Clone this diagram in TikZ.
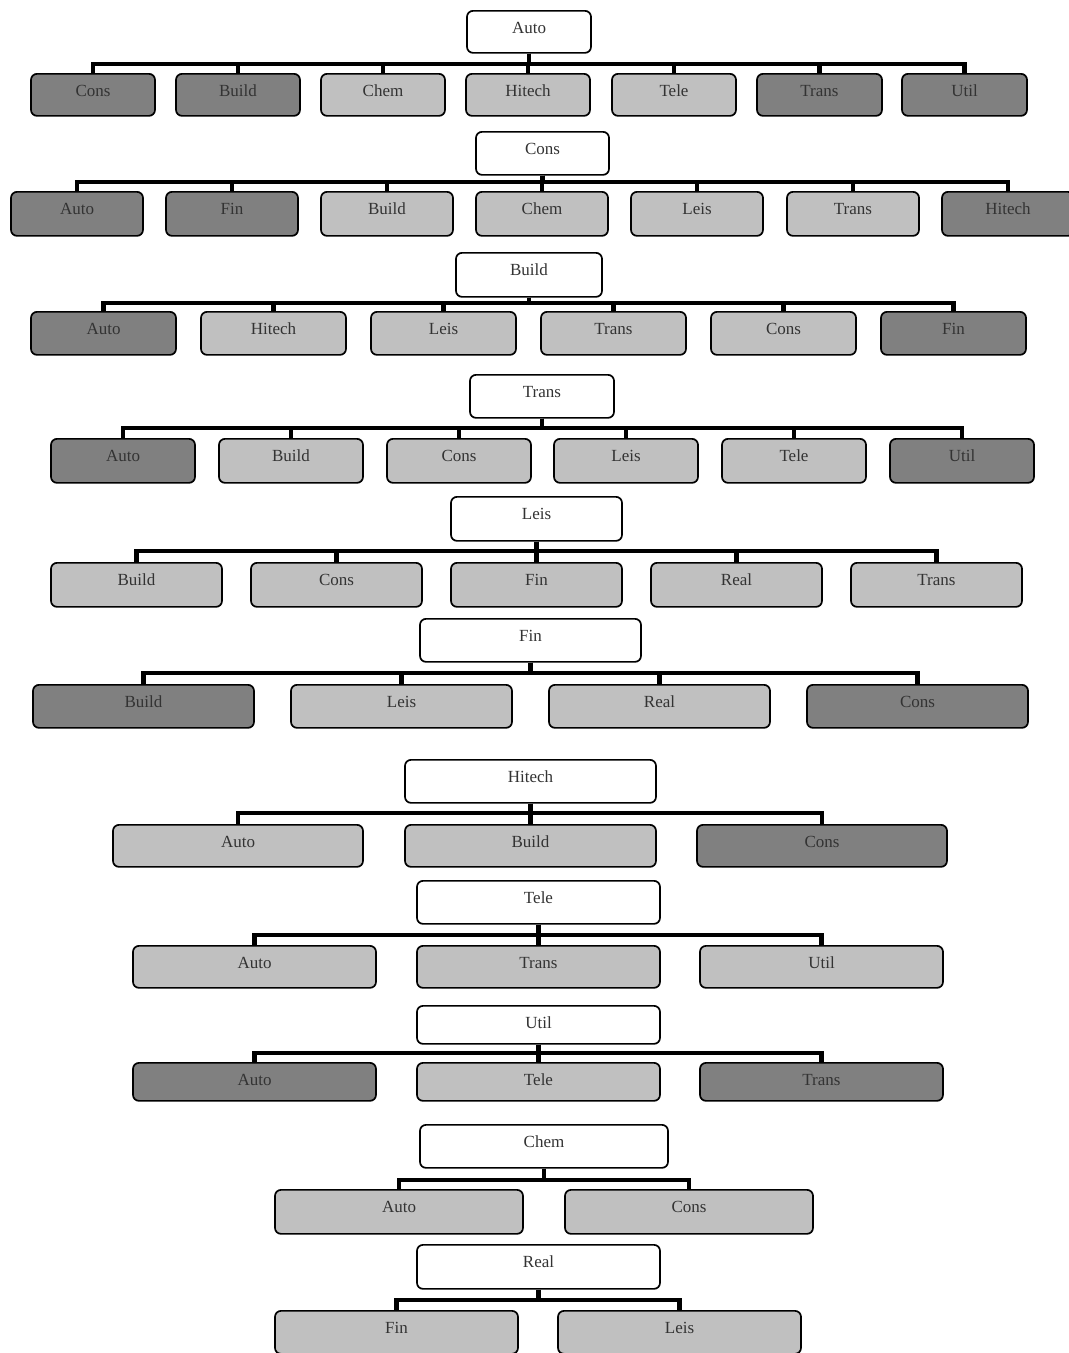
\documentclass[tikz,border=0pt]{standalone}
\usepackage{fontspec}
\setmainfont{Liberation Serif}
\begin{document}
\begin{tikzpicture}[x=1pt,y=-1pt,
  nbox/.style={draw=black,line width=1.7pt,rounded corners=6pt,inner sep=0pt,
    text=black!80,font=\fontsize{17}{20}\selectfont},
  conn/.style={draw=black,line width=4.5pt}]
\definecolor{dk}{HTML}{808080}
\definecolor{lt}{HTML}{C0C0C0}
\useasboundingbox (0,0) rectangle (1069,1353);
\newcommand\bx[7]{%
  \pgfmathsetmacro\bw{#4-#2}\pgfmathsetmacro\bd{#5-#3-23}%
  \pgfmathsetmacro\bcx{(#2+#4)/2}%
  \node[nbox,fill=#6,minimum width=\bw pt,text height=23pt,text depth=\bd pt,anchor=north] (#1) at (\bcx,#3) {#7};}
\newcommand\tree[3]{% parent, bar y, children
  \coordinate (#1bar) at (0,#2);
  \foreach \c in {#3} {\draw[conn] (#1.south) -- (#1.south |- #1bar) -| (\c.north);}}
% Row 1
\bx{p1}{467}{10}{591}{52}{white}{Auto}
\bx{a1}{31}{73}{155}{115}{dk}{Cons}
\bx{a2}{176}{73}{300}{115}{dk}{Build}
\bx{a3}{321}{73}{445}{115}{lt}{Chem}
\bx{a4}{466}{73}{590}{115}{lt}{Hitech}
\bx{a5}{612}{73}{736}{115}{lt}{Tele}
\bx{a6}{757}{73}{882}{115}{dk}{Trans}
\bx{a7}{902}{73}{1027}{115}{dk}{Util}
\tree{p1}{64}{a1,a2,a3,a4,a5,a6,a7}
% Row 2
\bx{p2}{476}{131}{609}{174}{white}{Cons}
\bx{b1}{11}{191}{143}{235}{dk}{Auto}
\bx{b2}{166}{191}{298}{235}{dk}{Fin}
\bx{b3}{321}{191}{453}{235}{lt}{Build}
\bx{b4}{476}{191}{608}{235}{lt}{Chem}
\bx{b5}{631}{191}{763}{235}{lt}{Leis}
\bx{b6}{787}{191}{919}{235}{lt}{Trans}
\bx{b7}{942}{191}{1074}{235}{dk}{Hitech}
\tree{p2}{182}{b1,b2,b3,b4,b5,b6,b7}
% Row 3
\bx{p3}{456}{252}{602}{296}{white}{Build}
\bx{c1}{31}{311}{176}{354}{dk}{Auto}
\bx{c2}{201}{311}{346}{354}{lt}{Hitech}
\bx{c3}{371}{311}{516}{354}{lt}{Leis}
\bx{c4}{541}{311}{686}{354}{lt}{Trans}
\bx{c5}{711}{311}{856}{354}{lt}{Cons}
\bx{c6}{881}{311}{1026}{354}{dk}{Fin}
\tree{p3}{303}{c1,c2,c3,c4,c5,c6}
% Row 4
\bx{p4}{470}{374}{614}{417}{white}{Trans}
\bx{d1}{51}{438}{195}{482}{dk}{Auto}
\bx{d2}{219}{438}{363}{482}{lt}{Build}
\bx{d3}{387}{438}{531}{482}{lt}{Cons}
\bx{d4}{554}{438}{698}{482}{lt}{Leis}
\bx{d5}{722}{438}{866}{482}{lt}{Tele}
\bx{d6}{890}{438}{1034}{482}{dk}{Util}
\tree{p4}{428}{d1,d2,d3,d4,d5,d6}
% Row 5
\bx{p5}{451}{496}{622}{540}{white}{Leis}
\bx{e1}{51}{562}{222}{606}{lt}{Build}
\bx{e2}{251}{562}{422}{606}{lt}{Cons}
\bx{e3}{451}{562}{622}{606}{lt}{Fin}
\bx{e4}{651}{562}{822}{606}{lt}{Real}
\bx{e5}{851}{562}{1022}{606}{lt}{Trans}
\tree{p5}{551}{e1,e2,e3,e4,e5}
% Row 6
\bx{p6}{420}{618}{641}{661}{white}{Fin}
\bx{f1}{33}{684}{254}{727}{dk}{Build}
\bx{f2}{291}{684}{512}{727}{lt}{Leis}
\bx{f3}{549}{684}{770}{727}{lt}{Real}
\bx{f4}{807}{684}{1028}{727}{dk}{Cons}
\tree{p6}{673}{f1,f2,f3,f4}
% Row 7
\bx{p7}{405}{759}{656}{802}{white}{Hitech}
\bx{g1}{113}{824}{363}{866}{lt}{Auto}
\bx{g2}{405}{824}{656}{866}{lt}{Build}
\bx{g3}{697}{824}{947}{866}{dk}{Cons}
\tree{p7}{813}{g1,g2,g3}
% Row 8
\bx{p8}{417}{880}{660}{923}{white}{Tele}
\bx{h1}{133}{945}{376}{987}{lt}{Auto}
\bx{h2}{417}{945}{660}{987}{lt}{Trans}
\bx{h3}{700}{945}{943}{987}{lt}{Util}
\tree{p8}{935}{h1,h2,h3}
% Row 9
\bx{p9}{417}{1005}{660}{1043}{white}{Util}
\bx{i1}{133}{1062}{376}{1100}{dk}{Auto}
\bx{i2}{417}{1062}{660}{1100}{lt}{Tele}
\bx{i3}{700}{1062}{943}{1100}{dk}{Trans}
\tree{p9}{1053}{i1,i2,i3}
% Row 10
\bx{p10}{420}{1124}{668}{1167}{white}{Chem}
\bx{j1}{275}{1189}{523}{1233}{lt}{Auto}
\bx{j2}{565}{1189}{813}{1233}{lt}{Cons}
\tree{p10}{1180}{j1,j2}
% Row 11
\bx{p11}{417}{1244}{660}{1288}{white}{Real}
\bx{k1}{275}{1310}{518}{1353}{lt}{Fin}
\bx{k2}{558}{1310}{801}{1353}{lt}{Leis}
\tree{p11}{1300}{k1,k2}
\end{tikzpicture}
\end{document}
